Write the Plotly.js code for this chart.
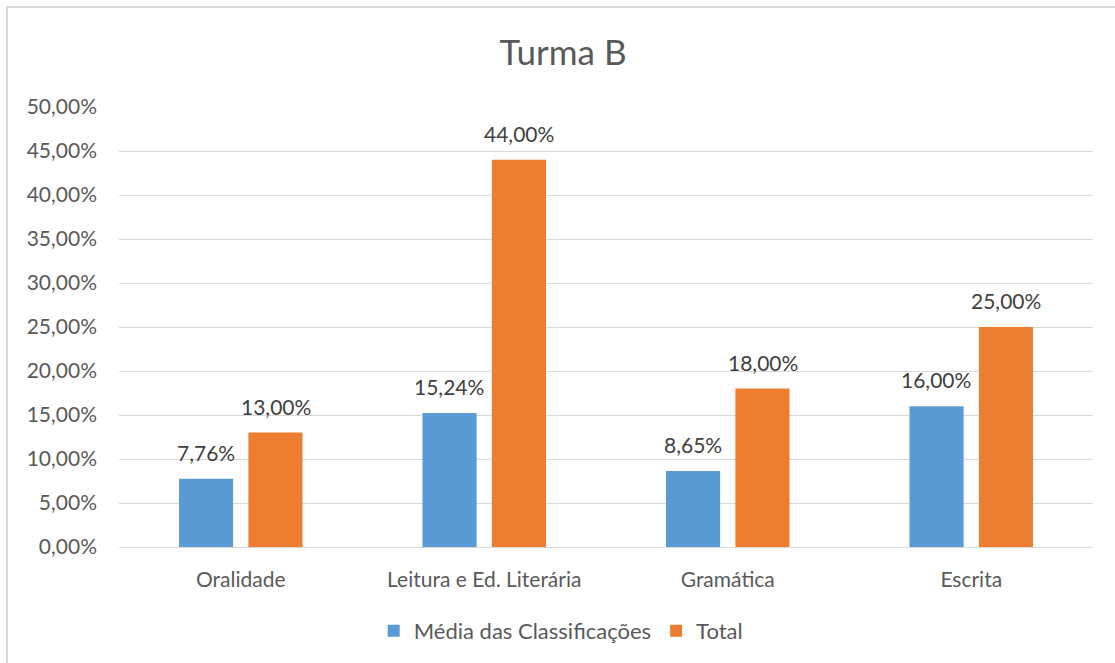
<!DOCTYPE html>
<html>
<head>
<meta charset="utf-8">
<script src="https://cdn.plot.ly/plotly-3.0.1.min.js"></script>
<style>
  html, body { margin: 0; padding: 0; background: #ffffff; }
  #wrap { position: relative; width: 1115px; height: 663px; overflow: hidden; }
  #chart { width: 1115px; height: 663px; }
  #frame { position: absolute; left: 6px; top: 6px; width: 1120px; height: 670px;
           border: 2px solid #D9D9D9; box-sizing: border-box; pointer-events: none; }
</style>
</head>
<body>
<div id="wrap">
  <div id="chart"></div>
  <div id="frame"></div>
</div>
<script>
const categories = ["Oralidade", "Leitura e Ed. Literária", "Gramática", "Escrita"];
const mediaValues = [0.0776, 0.1524, 0.0865, 0.16];
const totalValues = [0.13, 0.44, 0.18, 0.25];
const seriesNames = ["Média das Classificações", "Total"];
const yTickVals = [0, 0.05, 0.10, 0.15, 0.20, 0.25, 0.30, 0.35, 0.40, 0.45, 0.50];

const FONT = "Lato, 'Open Sans', sans-serif";
const TXT = "#595959";
const LBL = "#404040";

const traces = [
  {
    type: "bar", name: seriesNames[0], x: categories, y: mediaValues,
    marker: { color: "#5B9BD5" }, hoverinfo: "none"
  },
  {
    type: "bar", name: seriesNames[1], x: categories, y: totalValues,
    marker: { color: "#ED7D31" }, hoverinfo: "none"
  }
];

function fmtPct(v) {
  return (v * 100).toFixed(2).replace(".", ",") + "%";
}

const annotations = [];
[[mediaValues, -35], [totalValues, 35]].forEach(function (pair) {
  pair[0].forEach(function (v, i) {
    annotations.push({
      x: categories[i], y: v, xref: "x", yref: "y",
      text: fmtPct(v), showarrow: false,
      yanchor: "bottom", xanchor: "center",
      xshift: pair[1], yshift: 12,
      font: { family: FONT, size: 21, color: LBL }
    });
  });
});

const layout = {
  width: 1115, height: 663,
  paper_bgcolor: "#ffffff", plot_bgcolor: "#ffffff",
  separators: ",.",
  margin: { l: 119, r: 22, t: 107, b: 115 },
  font: { family: FONT, color: TXT, size: 21 },
  title: { text: "Turma B", x: 0.505, xanchor: "center", y: 0.92, yanchor: "middle", yref: "container",
           font: { family: FONT, size: 35, color: TXT } },
  barmode: "group",
  bargap: 0.43,
  bargroupgap: 0.22,
  xaxis: {
    type: "category", showgrid: false, zeroline: false,
    showline: true, linecolor: "#D9D9D9", linewidth: 1,
    ticks: "", ticklabelstandoff: 14,
    tickfont: { family: FONT, size: 21, color: TXT }
  },
  yaxis: {
    range: [0, 0.5], tickvals: yTickVals, tickformat: ".2%",
    showgrid: true, gridcolor: "#D9D9D9", gridwidth: 1,
    zeroline: false, showline: false, ticks: "", ticklabelstandoff: 21,
    tickfont: { family: FONT, size: 21, color: TXT }
  },
  annotations: annotations,
  showlegend: true,
  legend: {
    orientation: "h", x: 0.454, xanchor: "center", y: -0.188, yanchor: "middle",
    font: { family: FONT, size: 22, color: TXT }, itemwidth: 30, traceorder: "normal"
  }
};

Plotly.newPlot("chart", traces, layout, { displayModeBar: false, staticPlot: true });
</script>
</body>
</html>
